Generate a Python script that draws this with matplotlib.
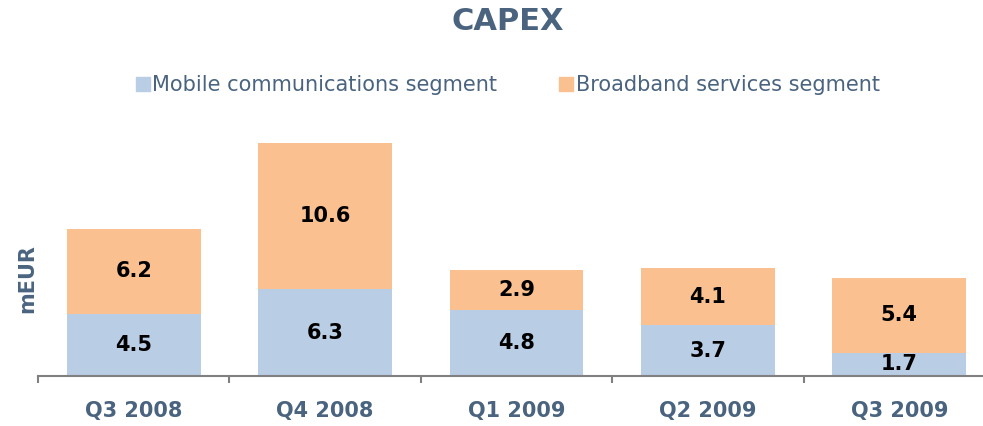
import matplotlib.pyplot as plt
from matplotlib.lines import Line2D
import numpy as np

quarters = ['Q3 2008', 'Q4 2008', 'Q1 2009', 'Q2 2009', 'Q3 2009']
mobile = [4.5, 6.3, 4.8, 3.7, 1.7]
broadband = [6.2, 10.6, 2.9, 4.1, 5.4]
series_names = ['Mobile communications segment', 'Broadband services segment']

text_col = '#4a6480'
mobile_col = '#b9cde5'
broad_col = '#fac090'

fig = plt.figure(figsize=(9.83, 4.26), dpi=100)
ax = fig.add_axes([38 / 983, 50 / 426, 957 / 983, 266 / 426])

x = np.arange(len(quarters))
b1 = ax.bar(x, mobile, width=0.7, color=mobile_col)
b2 = ax.bar(x, broadband, width=0.7, bottom=mobile, color=broad_col)
ax.bar_label(b1, labels=[f"{v:.1f}" for v in mobile], label_type='center',
             fontsize=15, fontweight='heavy', color='black')
ax.bar_label(b2, labels=[f"{v:.1f}" for v in broadband], label_type='center',
             fontsize=15, fontweight='heavy', color='black')

ax.set_xlim(-0.5, len(quarters) - 0.5)
ax.set_ylim(0, 19.3)
for s in ['top', 'right', 'left']:
    ax.spines[s].set_visible(False)
ax.spines['bottom'].set_color('#808080')
ax.spines['bottom'].set_linewidth(1.5)
ax.set_yticks([])

# labels on majors, tick marks at category boundaries
ax.set_xticks(x)
ax.set_xticklabels(quarters, fontsize=15, fontweight='bold', color=text_col)
ax.tick_params(axis='x', which='major', length=0, pad=18)
ax.set_xticks(np.arange(-0.5, len(quarters)), minor=True)
ax.tick_params(axis='x', which='minor', length=5, width=1.5, color='#808080')

fig.text(27 / 983, 1 - 279 / 426, 'mEUR', rotation=90, ha='center', va='center',
         fontsize=15, fontweight='bold', color=text_col)
fig.text(0.517, 1 - 22 / 426, 'CAPEX', ha='center', va='center',
         fontsize=22, fontweight='bold', color=text_col)

handles = [Line2D([], [], marker='s', linestyle='none', markersize=10,
                  markerfacecolor=c, markeredgecolor=c) for c in (mobile_col, broad_col)]
leg = fig.legend(handles, series_names, loc='center', bbox_to_anchor=(0.517, 1 - 85 / 426),
                 ncol=2, frameon=False, fontsize=15, handlelength=0.55,
                 handletextpad=0.2, columnspacing=3.0, labelcolor=text_col)

fig.savefig('out.png', dpi=100)
